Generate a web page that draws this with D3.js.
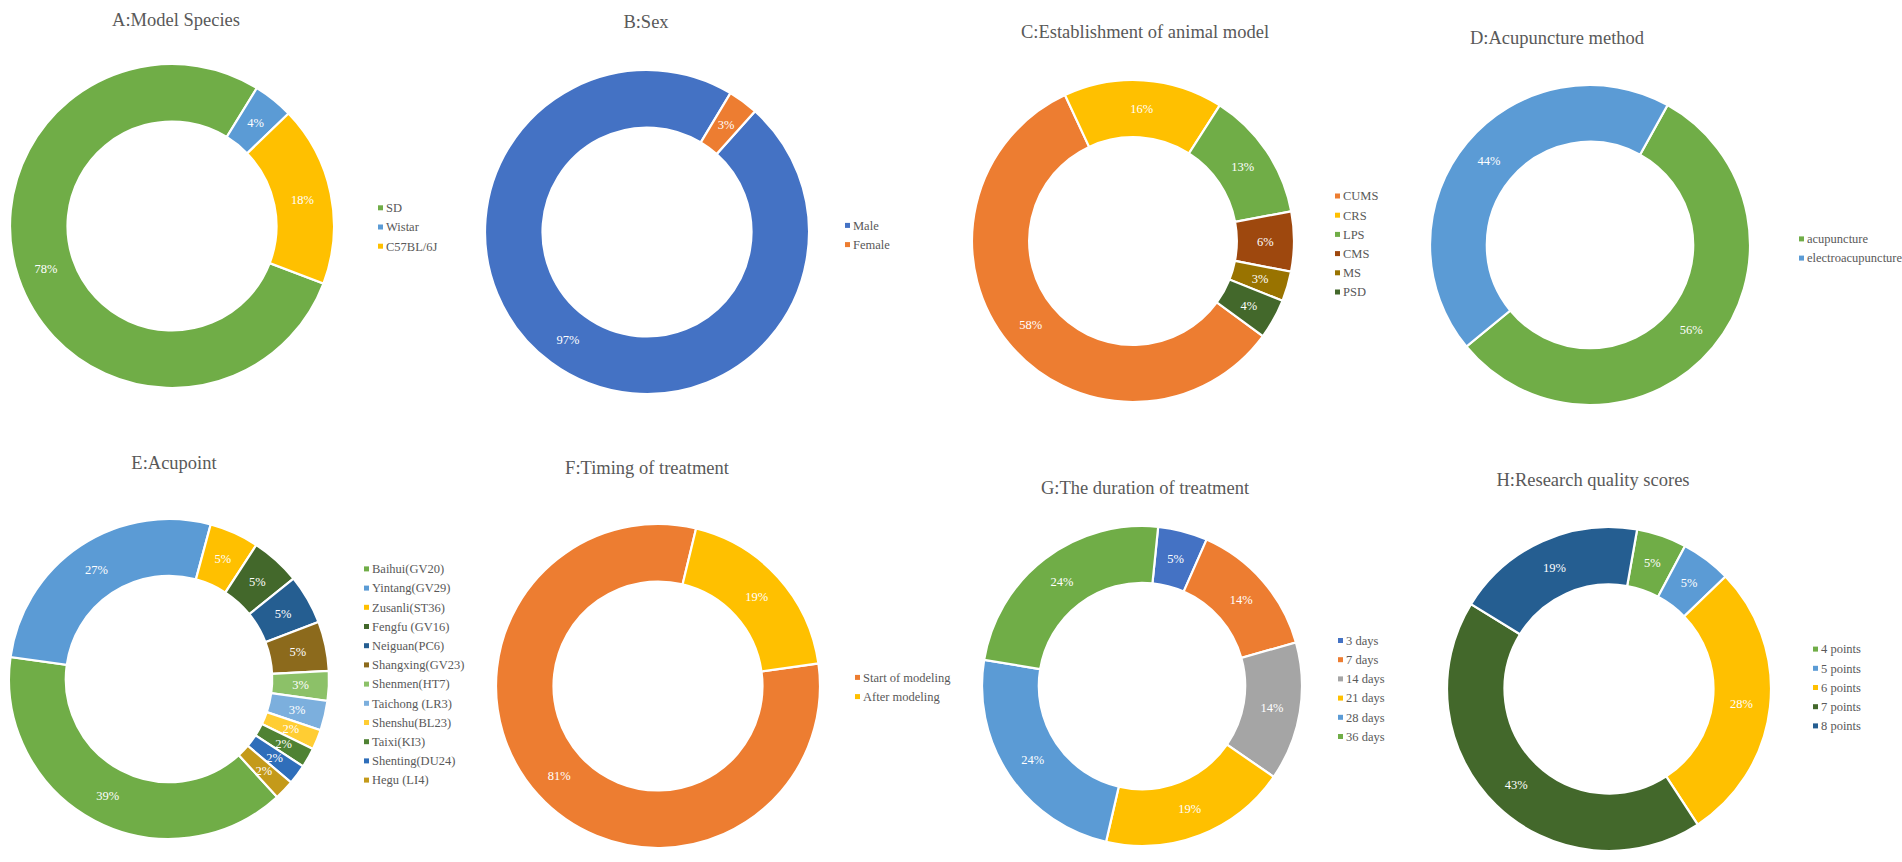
<!DOCTYPE html>
<html>
<head>
<meta charset="utf-8">
<script src="https://cdn.jsdelivr.net/npm/d3@7"></script>
<style>
  html, body { margin: 0; padding: 0; background: #ffffff; }
  svg { display: block; }
  text { font-family: "Liberation Serif", "Times New Roman", serif; }
</style>
</head>
<body>
<svg id="chart" width="1902" height="862"></svg>
<script>
// ---------- DATA ----------
const aTitle = "A:Model Species";
const aLabels = ["SD", "Wistar", "C57BL/6J"];
const aValues = [78, 4, 18];

const bTitle = "B:Sex";
const bLabels = ["Male", "Female"];
const bValues = [97, 3];

const cTitle = "C:Establishment of animal model";
const cLabels = ["CUMS", "CRS", "LPS", "CMS", "MS", "PSD"];
const cValues = [58, 16, 13, 6, 3, 4];

const dTitle = "D:Acupuncture method";
const dLabels = ["acupuncture", "electroacupuncture"];
const dValues = [56, 44];

const eTitle = "E:Acupoint";
const eLabels = ["Baihui(GV20)", "Yintang(GV29)", "Zusanli(ST36)", "Fengfu (GV16)", "Neiguan(PC6)",
  "Shangxing(GV23)", "Shenmen(HT7)", "Taichong (LR3)", "Shenshu(BL23)", "Taixi(KI3)",
  "Shenting(DU24)", "Hegu (LI4)"];
const eValues = [39, 27, 5, 5, 5, 5, 3, 3, 2, 2, 2, 2];

const fTitle = "F:Timing of treatment";
const fLabels = ["Start of modeling", "After modeling"];
const fValues = [81, 19];

const gTitle = "G:The duration of treatment";
const gLabels = ["3 days", "7 days", "14 days", "21 days", "28 days", "36 days"];
const gValues = [5, 14, 14, 19, 24, 24];

const hTitle = "H:Research quality scores";
const hLabels = ["4 points", "5 points", "6 points", "7 points", "8 points"];
const hValues = [5, 5, 28, 43, 19];

// ---------- STYLES ----------
const aColors = ["#70AD47", "#5B9BD5", "#FFC000"];
const bColors = ["#4472C4", "#ED7D31"];
const cColors = ["#ED7D31", "#FFC000", "#70AD47", "#9E480E", "#997300", "#43682B"];
const dColors = ["#70AD47", "#5B9BD5"];
const eColors = ["#70AD47", "#5B9BD5", "#FFC000", "#43682B", "#255E91", "#8C6A1C",
  "#8CC168", "#7CAFDD", "#FFCD33", "#4F8233", "#2F6EBA", "#C49A1A"];
const fColors = ["#ED7D31", "#FFC000"];
const gColors = ["#4472C4", "#ED7D31", "#A5A5A5", "#FFC000", "#5B9BD5", "#70AD47"];
const hColors = ["#70AD47", "#5B9BD5", "#FFC000", "#43682B", "#255E91"];

// ---------- LAYOUT ----------
const charts = [
  { title: aTitle, labels: aLabels, values: aValues, colors: aColors, cx: 172, cy: 226, R: 162, start: 110.8,
    tx: 176, ty: 20, lx: 378, ly: 227 },
  { title: bTitle, labels: bLabels, values: bValues, colors: bColors, cx: 647, cy: 232, R: 162, start: 41.8,
    tx: 646, ty: 22, lx: 845, ly: 235 },
  { title: cTitle, labels: cLabels, values: cValues, colors: cColors, cx: 1133, cy: 241, R: 161, start: 126.2,
    tx: 1145, ty: 32, lx: 1335, ly: 244 },
  { title: dTitle, labels: dLabels, values: dValues, colors: dColors, cx: 1590, cy: 245, R: 160, start: 29,
    tx: 1557, ty: 38, lx: 1799, ly: 248.5 },
  { title: eTitle, labels: eLabels, values: eValues, colors: eColors, cx: 169, cy: 679, R: 160, start: 137.5,
    tx: 174, ty: 463, lx: 364, ly: 674.5 },
  { title: fTitle, labels: fLabels, values: fValues, colors: fColors, cx: 658, cy: 686, R: 162, start: 82,
    tx: 647, ty: 468, lx: 855, ly: 687 },
  { title: gTitle, labels: gLabels, values: gValues, colors: gColors, cx: 1142, cy: 686, R: 160, start: 5.8,
    tx: 1145, ty: 488, lx: 1338, ly: 688.5 },
  { title: hTitle, labels: hLabels, values: hValues, colors: hColors, cx: 1609, cy: 689, R: 162, start: 10,
    tx: 1593, ty: 480, lx: 1813, ly: 687.5 }
];

const svg = d3.select("#chart");
const rad = Math.PI / 180;
const legendStep = 19.2;

charts.forEach(ch => {
  const g = svg.append("g").attr("transform", `translate(${ch.cx},${ch.cy})`);
  const inner = ch.R * 0.645;
  const s0 = ch.start * rad;
  const pie = d3.pie().sort(null).value(d => d).startAngle(s0).endAngle(s0 + 2 * Math.PI);
  const arc = d3.arc().innerRadius(inner).outerRadius(ch.R);
  const labelArc = d3.arc().innerRadius((inner + ch.R) / 2).outerRadius((inner + ch.R) / 2);
  const color = d3.scaleOrdinal().domain(ch.labels).range(ch.colors);
  const arcs = pie(ch.values);

  g.selectAll("path.slice").data(arcs).enter().append("path")
    .attr("class", "slice")
    .attr("d", arc)
    .attr("fill", (d, i) => color(ch.labels[i]))
    .attr("stroke", "#ffffff")
    .attr("stroke-width", 2.2)
    .attr("stroke-linejoin", "miter");

  g.selectAll("text.lbl").data(arcs).enter().append("text")
    .attr("class", "lbl")
    .attr("transform", d => `translate(${labelArc.centroid(d)})`)
    .attr("text-anchor", "middle")
    .attr("dy", "0.35em")
    .attr("fill", "#ffffff")
    .attr("font-size", 12.5)
    .text(d => d.value + "%");

  // title
  svg.append("text")
    .attr("x", ch.tx).attr("y", ch.ty)
    .attr("text-anchor", "middle")
    .attr("dy", "0.35em")
    .attr("fill", "#595959")
    .attr("font-size", 18.5)
    .text(ch.title);

  // legend
  const n = ch.labels.length;
  const ly = d3.scaleLinear().domain([0, n - 1]).range([ch.ly - (n - 1) / 2 * legendStep, ch.ly + (n - 1) / 2 * legendStep]);
  const lg = svg.append("g");
  const rows = lg.selectAll("g.row").data(ch.labels).enter().append("g")
    .attr("class", "row")
    .attr("transform", (d, i) => `translate(${ch.lx},${n > 1 ? ly(i) : ch.ly})`);
  rows.append("rect")
    .attr("x", 0).attr("y", -2.5).attr("width", 5).attr("height", 5)
    .attr("fill", d => color(d));
  rows.append("text")
    .attr("x", 8).attr("dy", "0.35em")
    .attr("fill", "#595959")
    .attr("font-size", 12.5)
    .text(d => d);
});
</script>
</body>
</html>
